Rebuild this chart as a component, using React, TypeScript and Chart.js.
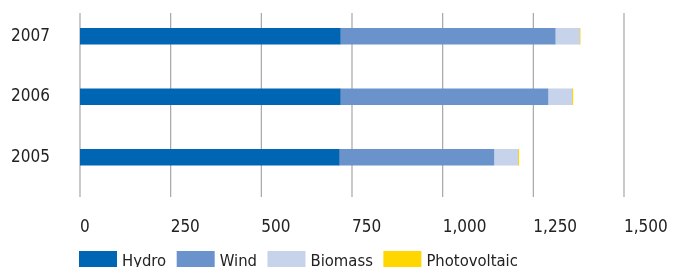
import React, { useEffect, useRef } from "react";
import { Chart, registerables } from "chart.js";

Chart.register(...registerables);

const categories = ["2007", "2006", "2005"];
const hydro = [717, 717, 714];
const wind = [593, 573, 427];
const biomass = [67, 66, 66];
const photovoltaic = [2, 3, 3];

const seriesNames = ["Hydro", "Wind", "Biomass", "Photovoltaic"];
const seriesColors = ["#0066b3", "#6a93cc", "#c6d3ea", "#ffd600"];

const xMin = 0;
const xMax = 1500;
const xStep = 250;

const FONT = "'DejaVu Sans Condensed', 'DejaVu Sans', sans-serif";

const gridPlugin = {
  id: "customGrid",
  beforeDatasetsDraw(chart: any) {
    const { ctx, chartArea } = chart;
    const xs = chart.scales.x;
    ctx.save();
    ctx.strokeStyle = "#a6a6a6";
    ctx.lineWidth = 1.2;
    const top = chartArea.top + 7;
    const bottom = chartArea.bottom + 9.5;
    xs.ticks.forEach((t: any) => {
      const px = xs.getPixelForValue(t.value);
      ctx.beginPath();
      ctx.moveTo(px, top);
      ctx.lineTo(px, bottom);
      ctx.stroke();
    });
    ctx.restore();
  },
};

const legendPlugin = {
  id: "customLegend",
  afterDraw(chart: any) {
    const { ctx, chartArea } = chart;
    ctx.save();
    ctx.font = `16.5px ${FONT}`;
    ctx.textBaseline = "alphabetic";
    ctx.textAlign = "left";
    let x = chartArea.left - 1;
    const boxTop = chartArea.bottom + 63.5;
    chart.data.datasets.forEach((ds: any) => {
      ctx.fillStyle = ds.backgroundColor;
      ctx.fillRect(x, boxTop, 38, 18);
      const tx = x + 38 + 5;
      ctx.fillStyle = "#222222";
      ctx.fillText(ds.label, tx, boxTop + 15);
      x = tx + ctx.measureText(ds.label).width + 10.5;
    });
    ctx.restore();
  },
};

export default function App() {
  const ref = useRef<HTMLCanvasElement | null>(null);
  useEffect(() => {
    if (!ref.current) return;
    const values = [hydro, wind, biomass, photovoltaic];
    const chart = new Chart(ref.current, {
      type: "bar",
      data: {
        labels: categories,
        datasets: seriesNames.map((name, i) => ({
          label: name,
          data: values[i],
          backgroundColor: seriesColors[i],
          borderWidth: 0,
          barThickness: 16,
        })),
      },
      options: {
        indexAxis: "y",
        animation: false,
        responsive: true,
        maintainAspectRatio: false,
        layout: { padding: { left: 0, right: 56, top: 6, bottom: 42.5 } },
        plugins: {
          legend: { display: false },
          tooltip: { enabled: false },
        },
        scales: {
          x: {
            stacked: true,
            min: xMin,
            max: xMax,
            grid: { display: false, drawTicks: false },
            border: { display: false },
            ticks: {
              stepSize: xStep,
              align: "start",
              padding: 30,
              color: "#222222",
              font: { family: FONT, size: 17 },
            },
            afterFit: (s: any) => {
              s.height = 50;
              s.paddingLeft = 0;
              s.paddingRight = 0;
            },
          },
          y: {
            stacked: true,
            grid: { display: false, drawTicks: false },
            border: { display: false },
            ticks: {
              padding: 30,
              color: "#222222",
              font: { family: FONT, size: 17 },
            },
            afterFit: (s: any) => {
              s.width = 80;
              s.paddingTop = 0;
              s.paddingBottom = 0;
            },
          },
        },
      },
      plugins: [gridPlugin, legendPlugin],
    });
    return () => chart.destroy();
  }, []);
  return (
    <div style={{ position: "absolute", left: 0, top: 0, width: 680, height: 280 }}>
      <canvas ref={ref} />
    </div>
  );
}
